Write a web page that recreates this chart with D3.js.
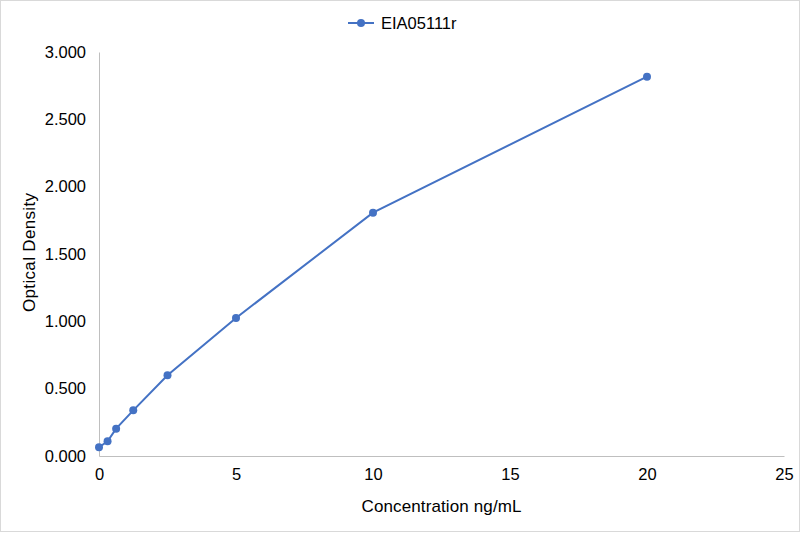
<!DOCTYPE html>
<html><head><meta charset="utf-8">
<script src="https://cdn.jsdelivr.net/npm/d3@7"></script>
<style>body{margin:0;background:#fff}svg{display:block;font-family:"Liberation Sans",Arial,sans-serif}</style>
</head><body>
<svg id="c" width="801" height="533"></svg>
<script>
const seriesName = "EIA05111r";
const concentrations = [0, 0.3125, 0.625, 1.25, 2.5, 5, 10, 20];
const densities = [0.065, 0.109, 0.203, 0.339, 0.599, 1.025, 1.807, 2.817];
const xTicks = [0, 5, 10, 15, 20, 25];
const yTicks = [0, 0.5, 1, 1.5, 2, 2.5, 3];
const xTitle = "Concentration ng/mL";
const yTitle = "Optical Density";
const color = "#4472C4";

const svg = d3.select("#c");
svg.append("rect").attr("x",0.5).attr("y",0.5).attr("width",799).attr("height",531)
  .attr("fill","#fff").attr("stroke","#d9d9d9");

const x = d3.scaleLinear().domain([0,25]).range([99,784]);
const y = d3.scaleLinear().domain([0,3]).range([456,52]);

const ax = svg.append("g").attr("transform","translate(0,456)")
  .call(d3.axisBottom(x).tickValues(xTicks).tickSize(0).tickPadding(12).tickFormat(d3.format("d")));
ax.select(".domain").attr("stroke","#bfbfbf");
ax.selectAll("text").attr("font-size","16.5px").attr("fill","#000").attr("font-family","Liberation Sans, Arial, sans-serif");

const ay = svg.append("g").attr("transform","translate(99,0)")
  .call(d3.axisLeft(y).tickValues(yTicks).tickSize(0).tickPadding(13).tickFormat(d3.format(".3f")));
ay.select(".domain").attr("stroke","#bfbfbf");
ay.selectAll("text").attr("font-size","16.5px").attr("fill","#000").attr("font-family","Liberation Sans, Arial, sans-serif");

const data = concentrations.map((c,i)=>({c, d:densities[i]}));
svg.append("path").datum(data)
  .attr("fill","none").attr("stroke",color).attr("stroke-width",2)
  .attr("d", d3.line().x(p=>x(p.c)).y(p=>y(p.d)));
svg.selectAll("circle.pt").data(data).enter().append("circle").attr("class","pt")
  .attr("cx",p=>x(p.c)).attr("cy",p=>y(p.d)).attr("r",4).attr("fill",color);

svg.append("text").attr("x",441.5).attr("y",511.5).attr("text-anchor","middle")
  .attr("font-size","17px").attr("textLength",160).text(xTitle);
svg.append("text").attr("transform","translate(34.5,252.5) rotate(-90)").attr("text-anchor","middle")
  .attr("font-size","17px").attr("textLength",119).text(yTitle);

const lg = svg.append("g");
lg.append("line").attr("x1",348).attr("x2",374).attr("y1",23).attr("y2",23).attr("stroke",color).attr("stroke-width",2);
lg.append("circle").attr("cx",361).attr("cy",23).attr("r",4).attr("fill",color);
lg.append("text").attr("x",381).attr("y",29).attr("font-size","16.5px").text(seriesName);
</script>
</body></html>
